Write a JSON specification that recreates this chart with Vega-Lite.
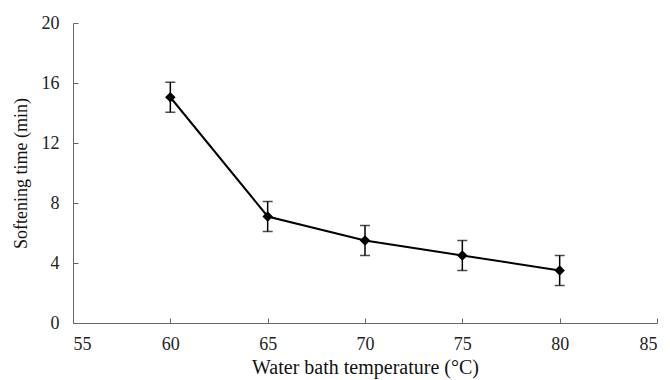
{
  "$schema": "https://vega.github.io/schema/vega-lite/v6.json",
  "width": 584,
  "height": 300,
  "autosize": "none",
  "padding": {"left": 73, "top": 23, "right": 13, "bottom": 57},
  "background": "white",
  "config": {
    "view": {"stroke": null},
    "axis": {
      "labelFont": "Liberation Serif",
      "titleFont": "Liberation Serif",
      "labelFontSize": 18,
      "titleFontSize": 18,
      "titleFontWeight": "normal",
      "labelColor": "#222",
      "titleColor": "#111",
      "domainColor": "#666",
      "tickColor": "#666",
      "grid": false
    }
  },
  "data": {
    "values": [
      {"temp": 60, "time": 15.05, "lo": 14.05, "hi": 16.05},
      {"temp": 65, "time": 7.1, "lo": 6.1, "hi": 8.1},
      {"temp": 70, "time": 5.5, "lo": 4.5, "hi": 6.5},
      {"temp": 75, "time": 4.5, "lo": 3.5, "hi": 5.5},
      {"temp": 80, "time": 3.5, "lo": 2.5, "hi": 4.5}
    ]
  },
  "encoding": {
    "x": {
      "field": "temp",
      "type": "quantitative",
      "scale": {"domain": [55, 85], "nice": false, "zero": false},
      "axis": {"values": [55, 60, 65, 70, 75, 80, 85], "tickSize": -5, "labelPadding": 17, "title": "Water bath temperature (°C)", "titleFontSize": 20, "titlePadding": 4}
    }
  },
  "layer": [
    {
      "mark": {"type": "rule", "color": "black", "strokeWidth": 1.5},
      "encoding": {
        "y": {"field": "lo", "type": "quantitative", "scale": {"domain": [0, 20], "nice": false},
          "axis": {"values": [0, 4, 8, 12, 16, 20], "tickSize": -5, "labelPadding": 19, "title": "Softening time (min)", "titlePadding": 11}},
        "y2": {"field": "hi"}
      }
    },
    {
      "mark": {"type": "tick", "color": "black", "size": 10, "thickness": 1.5, "orient": "horizontal"},
      "encoding": {"y": {"field": "lo", "type": "quantitative"}}
    },
    {
      "mark": {"type": "tick", "color": "black", "size": 10, "thickness": 1.5, "orient": "horizontal"},
      "encoding": {"y": {"field": "hi", "type": "quantitative"}}
    },
    {
      "mark": {"type": "line", "color": "black", "strokeWidth": 2},
      "encoding": {"y": {"field": "time", "type": "quantitative"}}
    },
    {
      "mark": {"type": "point", "shape": "diamond", "filled": true, "color": "black", "size": 110, "opacity": 1},
      "encoding": {"y": {"field": "time", "type": "quantitative"}}
    }
  ]
}
